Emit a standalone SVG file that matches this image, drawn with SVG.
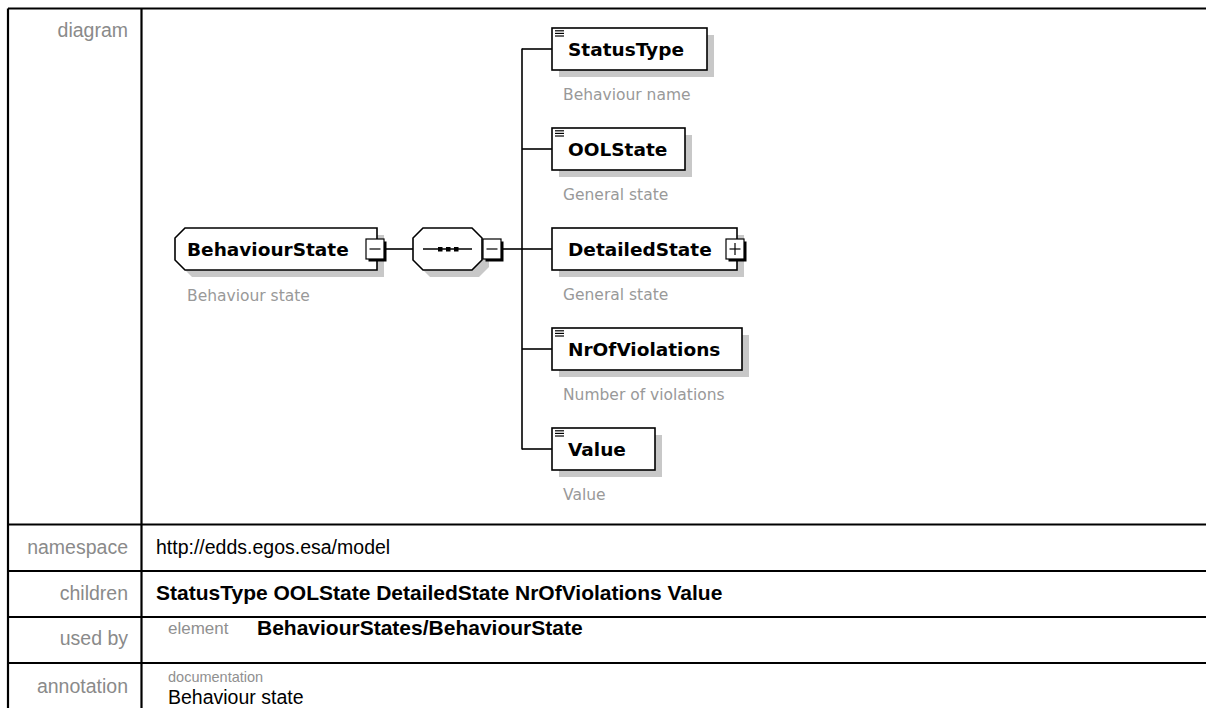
<svg xmlns="http://www.w3.org/2000/svg" width="1206" height="708" viewBox="0 0 1206 708">
<style>
.tl{stroke:#000;stroke-width:2.2;fill:none}
.lab{font-family:"Liberation Sans",Arial,sans-serif;font-size:19.5px;fill:#8a8a8a;text-anchor:end}
.val{font-family:"Liberation Sans",Arial,sans-serif;font-size:19.5px;fill:#000}
.valb{font-family:"Liberation Sans",Arial,sans-serif;font-size:21px;font-weight:bold;fill:#000}
.sub{font-family:"Liberation Sans",Arial,sans-serif;fill:#909090}
.box{fill:#fff;stroke:#000;stroke-width:1.6}
.sh{fill:#c8c8c8}
.nt{font-family:"DejaVu Sans",Verdana,sans-serif;font-size:18.5px;font-weight:bold;fill:#000}
.ds{font-family:"DejaVu Sans",Verdana,sans-serif;font-size:15.5px;fill:#999}
.cn{stroke:#000;stroke-width:1.6;fill:none}
.ic{stroke:#000;stroke-width:1.2}
.bw{fill:#fff;stroke:#000;stroke-width:1.2}
</style>
<rect width="1206" height="708" fill="#fff"/>
<g id="table">
<line class="tl" x1="8" y1="8.5" x2="1206" y2="8.5"/>
<line class="tl" x1="8" y1="8.5" x2="8" y2="708"/>
<line class="tl" x1="141.5" y1="8.5" x2="141.5" y2="708"/>
<line class="tl" x1="8" y1="524.5" x2="1206" y2="524.5"/>
<line class="tl" x1="8" y1="571" x2="1206" y2="571"/>
<line class="tl" x1="8" y1="617" x2="1206" y2="617"/>
<line class="tl" x1="8" y1="663" x2="1206" y2="663"/>
<text class="lab" x="128" y="37">diagram</text>
<text class="lab" x="128" y="554">namespace</text>
<text class="lab" x="128" y="600">children</text>
<text class="lab" x="128" y="645">used by</text>
<text class="lab" x="128" y="693">annotation</text>
<text class="val" x="156" y="554">http://edds.egos.esa/model</text>
<text class="valb" x="156" y="600">StatusType OOLState DetailedState NrOfViolations Value</text>
<text class="sub" x="168" y="634" font-size="17">element</text>
<text class="valb" x="257" y="635">BehaviourStates/BehaviourState</text>
<text class="sub" x="168" y="682" font-size="14.5">documentation</text>
<text class="val" x="168" y="704" font-size="18px">Behaviour state</text>
</g>
<g id="connectors">
<line class="cn" x1="386" y1="249" x2="413" y2="249"/>
<line class="cn" x1="503" y1="249" x2="522" y2="249"/>
<line class="cn" x1="522" y1="48.5" x2="522" y2="449.5"/>
<line class="cn" x1="522" y1="49" x2="552" y2="49"/>
<line class="cn" x1="522" y1="149" x2="552" y2="149"/>
<line class="cn" x1="522" y1="249" x2="552" y2="249"/>
<line class="cn" x1="522" y1="349" x2="552" y2="349"/>
<line class="cn" x1="522" y1="449" x2="552" y2="449"/>
</g>
<g id="BehaviourState">
<path class="sh" d="M192,235 L384,235 L384,277 L192,277 L182,267 L182,245 Z"/>
<path class="box" d="M185,228 L377,228 L377,270 L185,270 L175,260 L175,238 Z"/>
<text class="nt" x="187" y="256">BehaviourState</text>
<rect x="368.5" y="241.5" width="18" height="20" fill="#000"/>
<rect class="bw" x="366" y="239" width="18" height="20"/>
<line class="ic" x1="369.5" y1="249" x2="380.5" y2="249"/>
<text class="ds" x="187" y="301">Behaviour state</text>
</g>
<g id="sequence">
<path class="sh" d="M430,235 L479,235 L489,245 L489,267 L479,277 L430,277 L420,267 L420,245 Z"/>
<path class="box" d="M423,228 L472,228 L482,238 L482,260 L472,270 L423,270 L413,260 L413,238 Z"/>
<line class="cn" x1="423" y1="249" x2="472" y2="249"/>
<rect x="438" y="247" width="4.5" height="4.5" fill="#000"/>
<rect x="446" y="247" width="4.5" height="4.5" fill="#000"/>
<rect x="454" y="247" width="4.5" height="4.5" fill="#000"/>
<rect x="485.5" y="241.5" width="18" height="20" fill="#000"/>
<rect class="bw" x="483" y="239" width="18" height="20"/>
<line class="ic" x1="486.5" y1="249" x2="497.5" y2="249"/>
</g>
<g id="StatusType">
<rect class="sh" x="559" y="35" width="155" height="42"/>
<rect class="box" x="552" y="28" width="155" height="42"/>
<line class="ic" x1="555" y1="30.8" x2="564" y2="30.8"/>
<line class="ic" x1="555" y1="33.4" x2="564" y2="33.4"/>
<line class="ic" x1="555" y1="36" x2="564" y2="36"/>
<text class="nt" x="568" y="56">StatusType</text>
<text class="ds" x="563" y="100">Behaviour name</text>
</g>
<g id="OOLState">
<rect class="sh" x="559" y="135" width="133" height="42"/>
<rect class="box" x="552" y="128" width="133" height="42"/>
<line class="ic" x1="555" y1="130.8" x2="564" y2="130.8"/>
<line class="ic" x1="555" y1="133.4" x2="564" y2="133.4"/>
<line class="ic" x1="555" y1="136" x2="564" y2="136"/>
<text class="nt" x="568" y="156">OOLState</text>
<text class="ds" x="563" y="200">General state</text>
</g>
<g id="DetailedState">
<rect class="sh" x="559" y="235" width="185" height="42"/>
<rect class="box" x="552" y="228" width="185" height="42"/>
<text class="nt" x="568" y="256">DetailedState</text>
<rect x="728.5" y="241.5" width="18" height="20" fill="#000"/>
<rect class="bw" x="726" y="239" width="18" height="20"/>
<line class="ic" x1="729.5" y1="249" x2="740.5" y2="249"/>
<line class="ic" x1="735" y1="243" x2="735" y2="255"/>
<text class="ds" x="563" y="300">General state</text>
</g>
<g id="NrOfViolations">
<rect class="sh" x="559" y="335" width="190" height="42"/>
<rect class="box" x="552" y="328" width="190" height="42"/>
<line class="ic" x1="555" y1="330.8" x2="564" y2="330.8"/>
<line class="ic" x1="555" y1="333.4" x2="564" y2="333.4"/>
<line class="ic" x1="555" y1="336" x2="564" y2="336"/>
<text class="nt" x="568" y="356">NrOfViolations</text>
<text class="ds" x="563" y="400">Number of violations</text>
</g>
<g id="Value">
<rect class="sh" x="559" y="435" width="103" height="42"/>
<rect class="box" x="552" y="428" width="103" height="42"/>
<line class="ic" x1="555" y1="430.8" x2="564" y2="430.8"/>
<line class="ic" x1="555" y1="433.4" x2="564" y2="433.4"/>
<line class="ic" x1="555" y1="436" x2="564" y2="436"/>
<text class="nt" x="568" y="456">Value</text>
<text class="ds" x="563" y="500">Value</text>
</g>
</svg>
